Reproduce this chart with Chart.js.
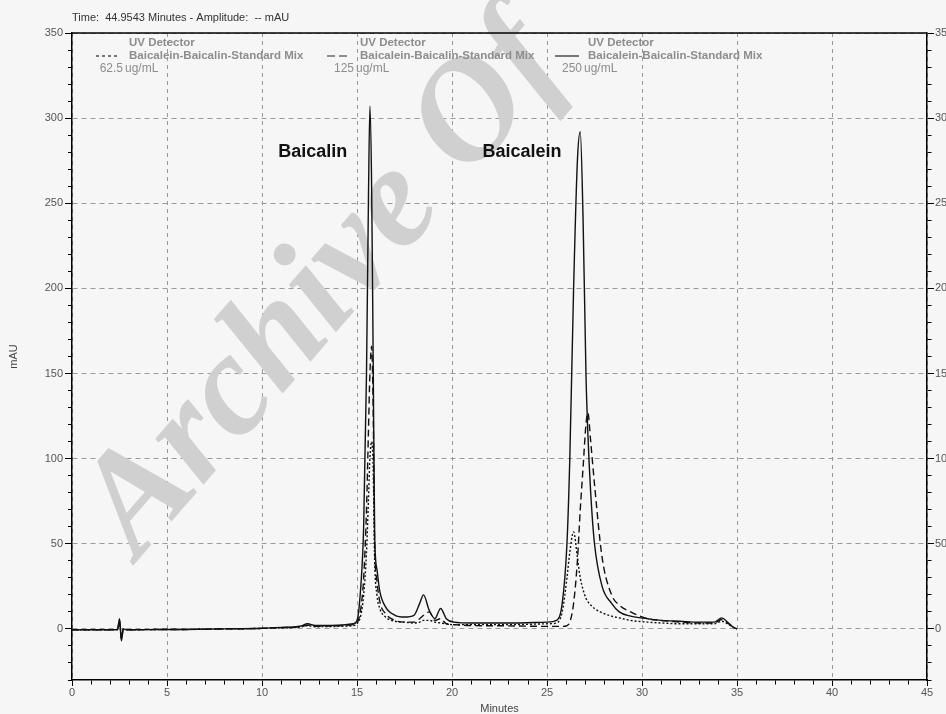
<!DOCTYPE html>
<html>
<head>
    <title>Baicalein-Baicalin Standard Mix</title>
    <script src="https://cdn.jsdelivr.net/npm/chart.js"></script>
    <style>
        body { margin: 0; background: #f6f6f6; }
    </style>
</head>
<body>
    <canvas id="chrom" width="946" height="714"></canvas>

    <script>
        // retention times (minutes), shared by the three injections
        const minutes = [
            0, 1, 2, 2.4, 2.5, 2.6, 2.7, 2.9,
            4, 6, 8, 10, 11, 12, 12.4, 12.8,
            14, 14.8, 15.0, 15.2, 15.35, 15.5, 15.6, 15.68,
            15.77, 15.85, 15.93, 16.05, 16.2, 16.5, 17, 17.5,
            18, 18.3, 18.5, 18.8, 19.1, 19.4, 19.7, 20.1,
            21, 23, 25, 25.5, 25.8, 26.05, 26.2, 26.4,
            26.6, 26.75, 26.9, 27.05, 27.15, 27.3, 27.5, 27.9,
            28.4, 28.8, 29.4, 30.3, 31, 32, 33, 33.8,
            34.2, 34.5, 34.8, 35
        ];

        // absorbance (mAU)
        const mix62 = [   // 62.5 ug/mL, dotted
            -0.5, -0.5, -0.5, -0.3, 4, -5, 0, -0.5,
            -0.4, -0.3, 0, 0.3, 0.6, 1, 2, 1.3,
            1.5, 2, 3, 8, 20, 45, 75, 100,
            110, 95, 40, 20, 12, 7, 4.5, 4,
            3.5, 4, 5, 5, 4, 3.5, 3, 2.5,
            2.5, 2.5, 3, 3.5, 10, 30, 45, 57,
            42, 30, 23, 18, 16, 14, 12, 9.5,
            7.5, 6.5, 5, 4, 3.5, 3, 3, 3,
            4.5, 3, 1, 0
        ];
        const mix125 = [  // 125 ug/mL, dashed
            -0.5, -0.5, -0.5, -0.3, 5, -6, 0, -0.5,
            -0.4, -0.3, 0, 0.3, 0.7, 1.3, 2.2, 1.6,
            1.8, 2.5, 3.5, 12, 30, 70, 115, 150,
            166, 130, 50, 28, 16, 9, 5, 4,
            4, 6, 8, 10, 5, 6, 3, 2.5,
            2, 1.8, 1.5, 1.5, 1.5, 2, 4, 15,
            40, 70, 95, 120, 127, 110, 85, 42,
            20, 14, 10, 6, 5, 4, 3.5, 3.5,
            5.5, 3.5, 1, 0
        ];
        const mix250 = [  // 250 ug/mL, solid
            -0.5, -0.5, -0.5, -0.3, 6, -7, 0, -0.5,
            -0.4, -0.3, 0, 0.4, 0.9, 1.6, 3, 2,
            2.2, 3, 5, 25, 60, 150, 250, 307,
            260, 160, 55, 35, 22, 13, 8, 7,
            8, 15, 20, 11, 6, 12, 6, 4,
            3.5, 3.5, 4, 5, 15, 50, 100, 200,
            275, 292, 240, 150, 115, 80, 50, 25,
            15, 10, 7.5, 6, 5, 4.5, 4, 4,
            6.5, 4, 1, 0
        ];

        const concLabels = ['62.5', '125', '250'];
        const peakNames = ['Baicalin', 'Baicalein'];
        const xMajor = [0, 5, 10, 15, 20, 25, 30, 35, 40, 45];
        const yMajor = [0, 50, 100, 150, 200, 250, 300, 350];

        const tickFont = { family: "'Liberation Sans Narrow', 'Liberation Sans', Arial", size: 11 };
        const isMajor = (c) => c.tick && (c.scale.axis === 'x' ? xMajor : yMajor).includes(c.tick.value);
        const gridColor = (c) => isMajor(c) ? '#9a9a9a' : 'rgba(0,0,0,0)';

        const decor = {
            id: 'decor',
            beforeDraw(chart) {
                const ctx = chart.ctx;
                ctx.save();
                ctx.fillStyle = '#f6f6f6';
                ctx.fillRect(0, 0, chart.width, chart.height);
                ctx.restore();
            },
            beforeDatasetsDraw(chart) {
                // faint watermark behind the traces
                const ctx = chart.ctx;
                ctx.save();
                ctx.translate(138, 560);
                ctx.rotate(-49 * Math.PI / 180);
                ctx.fillStyle = '#d0d0d0';
                ctx.font = "italic bold 145px 'Liberation Serif'";
                ctx.fillText('Archive Of', 0, 0);
                ctx.restore();
            },
            afterDraw(chart) {
                const ctx = chart.ctx;
                const a = chart.chartArea;
                const xs = chart.scales.x, ys = chart.scales.y;
                ctx.save();

                // frame top edge
                ctx.strokeStyle = '#000';
                ctx.lineWidth = 1.5;
                ctx.beginPath();
                ctx.moveTo(a.left, a.top);
                ctx.lineTo(a.right, a.top);
                ctx.stroke();

                // header
                ctx.fillStyle = '#333';
                ctx.font = "11px 'Liberation Sans'";
                ctx.fillText('Time:  44.9543 Minutes - Amplitude:  -- mAU', 72, 21);

                // legend inside the plot
                const legX = [129, 360, 588];
                const dashes = [[3, 3], [8, 4], []];
                for (let i = 0; i < 3; i++) {
                    const x = legX[i];
                    ctx.strokeStyle = '#222';
                    ctx.lineWidth = 1.2;
                    ctx.setLineDash(dashes[i]);
                    ctx.beginPath();
                    ctx.moveTo(x - 33, 56);
                    ctx.lineTo(x - 9, 56);
                    ctx.stroke();
                    ctx.setLineDash([]);
                    ctx.fillStyle = '#8d8d8d';
                    ctx.textAlign = 'left';
                    ctx.font = "bold 11.5px 'Liberation Sans'";
                    ctx.fillText('UV Detector', x, 46);
                    ctx.fillText('Baicalein-Baicalin-Standard Mix', x, 59);
                    ctx.font = "12px 'Liberation Sans'";
                    ctx.fillText('ug/mL', x - 4, 72);
                    ctx.textAlign = 'right';
                    ctx.fillText(concLabels[i], x - 6, 72);
                }

                // peak names
                ctx.textAlign = 'left';
                ctx.fillStyle = '#111';
                ctx.font = "bold 18px 'Liberation Sans'";
                ctx.fillText(peakNames[0], xs.getPixelForValue(10.85), ys.getPixelForValue(277));
                ctx.fillText(peakNames[1], xs.getPixelForValue(21.6), ys.getPixelForValue(277));
                ctx.restore();
            }
        };

        const series = [
            { label: concLabels[0] + ' ug/mL', values: mix62, dash: [2, 2] },
            { label: concLabels[1] + ' ug/mL', values: mix125, dash: [7, 4] },
            { label: concLabels[2] + ' ug/mL', values: mix250, dash: [] }
        ];

        new Chart(document.getElementById('chrom'), {
            type: 'line',
            data: {
                datasets: series.map(s => ({
                    label: s.label,
                    data: minutes.map((t, i) => ({ x: t, y: s.values[i] })),
                    borderColor: '#111',
                    borderWidth: 1.4,
                    borderDash: s.dash,
                    pointRadius: 0,
                    cubicInterpolationMode: 'monotone',
                    fill: false
                }))
            },
            options: {
                responsive: false,
                animation: false,
                layout: { padding: { top: 33, left: 0, right: 0, bottom: 0 } },
                plugins: {
                    legend: { display: false },
                    tooltip: { enabled: false }
                },
                scales: {
                    x: {
                        type: 'linear',
                        min: 0, max: 45,
                        afterFit: (s) => { s.height = 34; },
                        ticks: {
                            stepSize: 1, autoSkip: false, maxRotation: 0, padding: 0,
                            color: '#555', font: tickFont,
                            callback: (v) => xMajor.includes(v) ? String(v) : ''
                        },
                        grid: {
                            color: gridColor, tickColor: '#000', tickLength: 6, lineWidth: 1,
                            tickBorderDash: (c) => isMajor(c) ? [] : [4, 20]
                        },
                        border: { color: '#000', width: 1.5, dash: [4, 4] },
                        title: { display: true, text: 'Minutes', color: '#444', font: { family: "'Liberation Sans Narrow', 'Liberation Sans'", size: 11 }, padding: { top: 0, bottom: -2 } }
                    },
                    y: {
                        min: -30, max: 350,
                        afterFit: (s) => { s.width = 72; },
                        ticks: {
                            stepSize: 10, autoSkip: false, padding: 2,
                            color: '#555', font: tickFont,
                            callback: (v) => yMajor.includes(v) ? String(v) : ''
                        },
                        grid: {
                            color: gridColor, tickColor: '#000', tickLength: 7, lineWidth: 1,
                            tickBorderDash: (c) => isMajor(c) ? [] : [0, 3, 20, 0]
                        },
                        border: { color: '#000', width: 1.5, dash: [5, 4] },
                        title: { display: true, text: 'mAU', color: '#444', font: { family: "'Liberation Sans Narrow', 'Liberation Sans'", size: 11 }, padding: { top: 7, bottom: 0 } }
                    },
                    y2: {
                        position: 'right',
                        min: -30, max: 350,
                        afterFit: (s) => { s.width = 19; },
                        ticks: {
                            stepSize: 10, autoSkip: false, padding: 1,
                            color: '#555', font: tickFont,
                            callback: (v) => yMajor.includes(v) ? String(v) : ''
                        },
                        grid: {
                            drawOnChartArea: false, tickColor: '#000', tickLength: 7,
                            tickBorderDash: (c) => yMajor.includes(c.tick && c.tick.value) ? [] : [4, 20]
                        },
                        border: { color: '#000', width: 1.5 }
                    }
                }
            },
            plugins: [decor]
        });
    </script>
</body>
</html>
